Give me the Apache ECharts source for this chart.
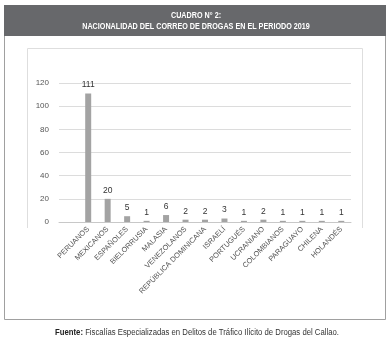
<!DOCTYPE html>
<html><head><meta charset="utf-8">
<script src="https://cdn.jsdelivr.net/npm/echarts@6/dist/echarts.min.js"></script>
<style>html,body{margin:0;padding:0;background:#fff}#c{width:392px;height:344px}</style>
</head><body><div id="c"></div>
<script>
var categories = ["", "PERUANOS", "MEXICANOS", "ESPAÑOLES", "BIELORRUSIA", "MALASIA", "VENEZOLANOS", "REPÚBLICA DOMINICANA", "ISRAELÍ", "PORTUGUÉS", "UCRANIANO", "COLOMBIANOS", "PARAGUAYO", "CHILENA", "HOLANDÉS"];
var values = [null, 111, 20, 5, 1, 6, 2, 2, 3, 1, 2, 1, 1, 1, 1];
var yTicks = [0, 20, 40, 60, 80, 100, 120];
var titleLines = ["CUADRO N° 2:", "NACIONALIDAD DEL CORREO DE DROGAS EN EL PERIODO 2019"];
var sourceBold = "Fuente:";
var sourceText = " Fiscalías Especializadas en Delitos de Tráfico Ilícito de Drogas del Callao.";

var F = "'Liberation Sans',Arial,sans-serif";
var chart = echarts.init(document.getElementById('c'));
chart.setOption({
  animation: false,
  graphic: [
    {type:'rect', shape:{x:4.5,y:5.5,width:381,height:314}, style:{fill:'#fff', stroke:'#a0a0a0', lineWidth:1}, z:-10},
    {type:'rect', shape:{x:4,y:5,width:382,height:31}, style:{fill:'#67686b'}, z:-9},
    {type:'polyline', shape:{points:[[27.5,228],[27.5,48.5],[362.5,48.5],[362.5,228]]}, style:{fill:null, stroke:'#dedede', lineWidth:1}, z:-8},
    {type:'text', x:196, y:21, scaleX:0.8, style:{text:titleLines.join('\n'), x:0, y:0, align:'center', verticalAlign:'middle', fill:'#fff', font:'bold 9px '+F, lineHeight:11}},
    {type:'text', x:197, y:333, scaleX:0.91, style:{rich:{b:{font:'bold 8.5px '+F, fill:'#222'}, n:{font:'8.5px '+F, fill:'#333'}}, text:'{b|'+sourceBold+'}{n|'+sourceText+'}', x:0, y:0, align:'center', verticalAlign:'middle'}}
  ],
  grid: {left:59, right:41, top:83, bottom:122, containLabel:false},
  xAxis: {
    type:'category', data:categories,
    axisLine:{show:true, lineStyle:{color:'#c8c8c8'}},
    axisTick:{show:false},
    axisLabel:{interval:0, rotate:45, fontFamily:F, fontSize:7.4, color:'#555', margin:6}
  },
  yAxis: {
    type:'value', min:0, max:120, interval:20,
    axisLine:{show:false}, axisTick:{show:false},
    splitLine:{lineStyle:{color:'#dcdcdc'}},
    axisLabel:{fontFamily:F, fontSize:8, color:'#555', margin:10,
      formatter:function(v){return yTicks.indexOf(v)>=0?String(v):'';}}
  },
  series: [{
    type:'bar', data:values, barWidth:6,
    itemStyle:{color:'#a3a3a3'},
    label:{show:true, position:'top', distance:4, fontFamily:F, fontSize:8.5, color:'#333'}
  }]
});
</script></body></html>
